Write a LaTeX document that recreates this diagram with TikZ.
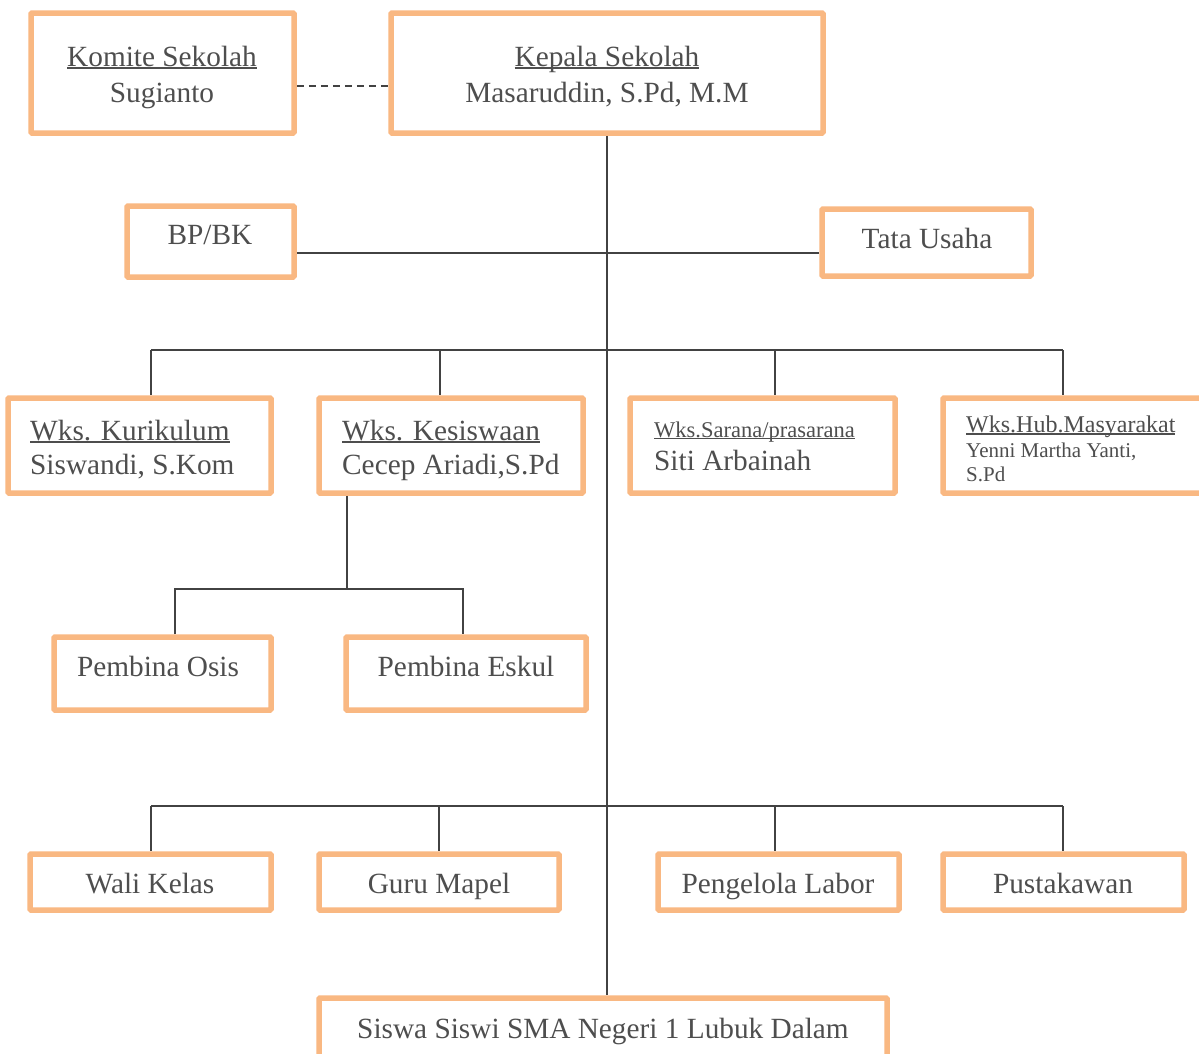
\documentclass[tikz,border=0pt]{standalone}
\usepackage{fontspec}
\setmainfont{Liberation Serif}
\definecolor{boxor}{RGB}{249,184,130}
\definecolor{txtgray}{RGB}{78,78,78}
\definecolor{linegray}{RGB}{66,66,66}
\newcommand\myul[1]{\setbox0\hbox{#1}\rlap{\rule[-0.11em]{\wd0}{0.065em}}\box0}
\newcommand\fs[1]{\fontsize{#1}{#1}\selectfont}
\tikzset{
  orgbox/.style={draw=boxor, line width=5.5pt, rounded corners=1pt, fill=white, inner sep=0pt},
  ctxt/.style={anchor=base, inner sep=0pt, text=txtgray, font=\fs{29.3}},
  ltxt/.style={anchor=base west, inner sep=0pt, text=txtgray, font=\fs{29.3}},
  conn/.style={draw=linegray, line width=2pt},
}
\newcommand\obox[5]{\path (#2,#3) coordinate (#1-a) (#4,#5) coordinate (#1-b);
  \node[orgbox, minimum width={(#4-#2)*1pt}, minimum height={(#5-#3)*1pt}] (#1) at ({(#2+#4)/2},{(#3+#5)/2}) {};}
\begin{document}
\begin{tikzpicture}[x=1pt, y=-1pt]
\useasboundingbox[fill=white] (0,0) rectangle (1199,1053);
% connector coordinates
\coordinate (b1l) at (151,350);
\coordinate (b1r) at (1063,350);
\coordinate (b1k) at (440,350);
\coordinate (b1s) at (775,350);
\coordinate (kx) at (347,589);
\coordinate (b3l) at (175,589);
\coordinate (b3r) at (463,589);
\coordinate (b2l) at (151,806);
\coordinate (b2r) at (1063,806);
\coordinate (b2g) at (439,806);
\coordinate (b2p) at (775,806);
% boxes
\obox{komite}{31}{13}{294}{133}
\obox{kepala}{391}{13}{823}{133}
\obox{bpbk}{127}{206}{294}{277}
\obox{tu}{822}{209}{1031}{276}
\obox{kur}{8}{398}{271}{493}
\obox{kes}{319}{398}{583}{493}
\obox{sar}{630}{398}{895}{493}
\obox{hub}{943}{398}{1225}{493}
\obox{osis}{54}{637}{271}{710}
\obox{eskul}{346}{637}{586}{710}
\obox{wali}{30}{854}{271}{910}
\obox{guru}{319}{854}{559}{910}
\obox{labor}{658}{854}{899}{910}
\obox{pust}{943}{854}{1184}{910}
\obox{siswa}{319}{998}{887}{1075}
% connectors
\draw[conn, dashed, dash pattern=on 7pt off 5pt] ([yshift=-13pt]komite.east) -- ([yshift=-13pt]komite.east -| kepala.west);
\draw[conn] (kepala.south) -- (kepala.south |- siswa.north);
\draw[conn] ([yshift=-11.5pt]bpbk.east) -- ([yshift=-11.5pt]bpbk.east -| tu.west);
\draw[conn] (b1l) -- (b1r);
\draw[conn] (b1l) -- (b1l |- kur.north);
\draw[conn] (b1k) -- (b1k |- kes.north);
\draw[conn] (b1s) -- (b1s |- sar.north);
\draw[conn] (b1r) -- (b1r |- hub.north);
\draw[conn] (kx |- kes.south) -- (kx);
\draw[conn] (b3l |- osis.north) -- (b3l) -- (b3r) -- (b3r |- eskul.north);
\draw[conn] (b2l) -- (b2r);
\draw[conn] (b2l) -- (b2l |- wali.north);
\draw[conn] (b2g) -- (b2g |- guru.north);
\draw[conn] (b2p) -- (b2p |- labor.north);
\draw[conn] (b2r) -- (b2r |- pust.north);
% texts
\node[ctxt] (komite-t1) at (162,66) {\myul{Komite Sekolah}};
\node[ctxt] (komite-t2) at (162,102) {Sugianto};
\node[ctxt] (kepala-t1) at (607,66) {\myul{Kepala Sekolah}};
\node[ctxt] (kepala-t2) at (607,102) {Masaruddin, S.Pd, M.M};
\node[ctxt] (bpbk-t) at (210,244) {BP/BK};
\node[ctxt] (tu-t) at (927,248) {Tata Usaha};
\node[ltxt] (kur-t1) at (30,440) {\myul{Wks. Kurikulum}};
\node[ltxt] (kur-t2) at (30,474) {Siswandi, S.Kom};
\node[ltxt] (kes-t1) at (342,440) {\myul{Wks. Kesiswaan}};
\node[ltxt] (kes-t2) at (342,474) {Cecep Ariadi,S.Pd};
\node[ltxt, font=\fs{22.5}] (sar-t1) at (654,437) {\myul{Wks.Sarana/prasarana}};
\node[ltxt, font=\fs{29.3}] (sar-t2) at (654,470) {Siti Arbainah};
\node[ltxt, font=\fs{24}] (hub-t1) at (966,432) {\myul{Wks.Hub.Masyarakat}};
\node[ltxt, font=\fs{21}] (hub-t2) at (966,457) {Yenni Martha Yanti,};
\node[ltxt, font=\fs{21}] (hub-t3) at (966,481) {S.Pd};
\node[ctxt] (osis-t) at (158,676) {Pembina Osis};
\node[ctxt] (eskul-t) at (466,676) {Pembina Eskul};
\node[ctxt] (wali-t) at (150,893) {Wali Kelas};
\node[ctxt] (guru-t) at (439,893) {Guru Mapel};
\node[ctxt] (labor-t) at (778,893) {Pengelola Labor};
\node[ctxt] (pust-t) at (1063,893) {Pustakawan};
\node[ctxt] (siswa-t) at (603,1038) {Siswa Siswi SMA Negeri 1 Lubuk Dalam};
\end{tikzpicture}
\end{document}
